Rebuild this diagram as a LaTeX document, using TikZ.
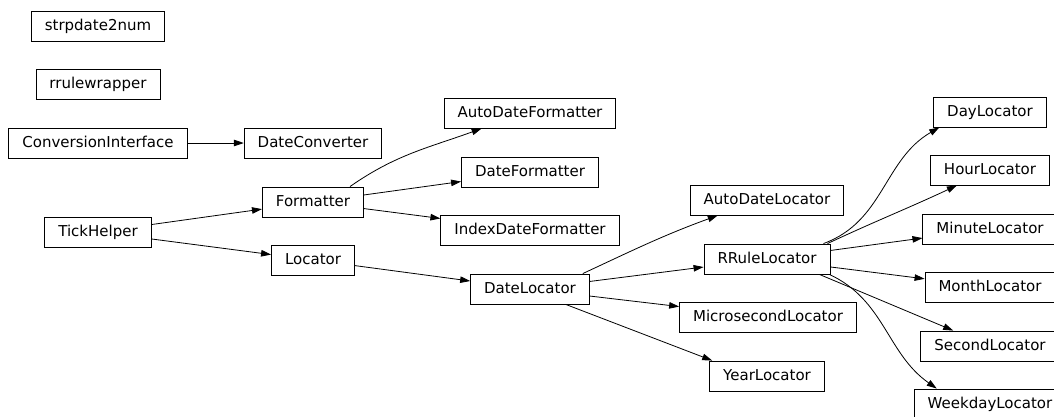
\documentclass[tikz,border=0pt]{standalone}
\usepackage{fontspec}
\setmainfont{DejaVu Sans}
\usetikzlibrary{arrows.meta}

\begin{document}
\begin{tikzpicture}[x=1pt, y=-1pt, >={Triangle[length=10pt, width=6.5pt]},
    cls/.style={draw, line width=0.9pt, minimum height=30pt, inner xsep=13.5pt, inner ysep=0pt,
        text height=11pt, text depth=2pt, font=\fontsize{15}{18}\selectfont},
    every path/.append style={line width=0.8pt}]

    \useasboundingbox (0,0) rectangle (1054,416);

    % Column 1
    \node[cls] (strp) at (98,26) {strpdate2num};
    \node[cls] (rrw) at (98,84) {rrulewrapper};
    \node[cls] (conv) at (98,143) {ConversionInterface};
    \node[cls] (tick) at (98,232) {TickHelper};

    % Column 2
    \node[cls] (dconv) at (313,143) {DateConverter};
    \node[cls] (fmt) at (313,202) {Formatter};
    \node[cls] (loc) at (313,260) {Locator};

    % Column 3
    \node[cls] (adfmt) at (530,113) {AutoDateFormatter};
    \node[cls] (dfmt) at (530,172) {DateFormatter};
    \node[cls] (idfmt) at (530,230) {IndexDateFormatter};
    \node[cls] (dloc) at (530,289) {DateLocator};

    % Column 4
    \node[cls] (adloc) at (767,200) {AutoDateLocator};
    \node[cls] (rrloc) at (767,259) {RRuleLocator};
    \node[cls] (msloc) at (768,317) {MicrosecondLocator};
    \node[cls] (yloc) at (767,376) {YearLocator};

    % Column 5
    \foreach \n/\y in {Day/112, Hour/170, Minute/229, Month/287, Second/346, Weekday/404}
        \node[cls] (\n) at (990,\y) {\n Locator};

    % Inheritance arrows
    \draw[->] (conv) -- (dconv);
    \draw[->] (tick) -- (fmt);
    \draw[->] (tick) -- (loc);

    \draw[->] ([xshift=-14pt]fmt.north east) to[out=35, in=200] ([xshift=38pt]adfmt.south west);
    \draw[->] (fmt) -- (dfmt);
    \draw[->] (fmt) -- (idfmt);
    \draw[->] (loc) -- (dloc);

    \draw[->] ([xshift=-7pt]dloc.north east) to[out=25, in=200] ([xshift=28pt]adloc.south west);
    \draw[->] (dloc) -- (rrloc);
    \draw[->] (dloc) -- (msloc);
    \draw[->] ([xshift=-24pt]dloc.south east) -- ([xshift=3pt]yloc.north west);

    \draw[->] ([xshift=-7pt]rrloc.north east) to[out=20, in=210] ([xshift=6pt]Day.south west);
    \draw[->] ([xshift=-3pt]rrloc.north east) to[out=25, in=205] (Hour);
    \foreach \t in {Minute, Month}
        \draw[->] (rrloc) -- (\t);
    \draw[->] ([xshift=-11pt]rrloc.south east) -- (Second);
    \draw[->] ([xshift=-1pt]rrloc.south east) to[out=-25, in=145] ([xshift=23pt]Weekday.north west);

\end{tikzpicture}
\end{document}
